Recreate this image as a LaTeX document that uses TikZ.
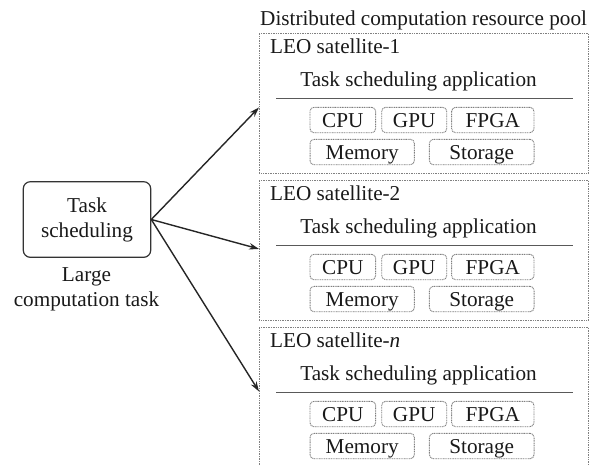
\documentclass[tikz,border=0pt]{standalone}
\usepackage{fontspec}
\setmainfont{Liberation Serif}
\usetikzlibrary{arrows.meta}

\begin{document}
\begin{tikzpicture}[x=1pt,y=-1pt,
  every node/.style={font=\fontsize{21.2}{25}\selectfont, text=black!90},
  satbox/.style={draw=black!50, line width=0.9pt, dash pattern=on 1pt off 0.7pt,
    minimum width=329pt, minimum height=140pt, anchor=north west, inner sep=0pt},
  resbox/.style={draw=black!50, line width=0.9pt, dash pattern=on 1pt off 0.7pt,
    rounded corners=4pt, minimum height=25.4pt, inner sep=0pt,
    text height=14pt, text depth=0pt},
  taskbox/.style={draw=black!80, line width=1.2pt, rounded corners=7pt,
    minimum width=127.4pt, minimum height=75.6pt, align=center, inner sep=0pt},
  sendarrow/.style={draw=black!85, line width=1.4pt,
    -{Stealth[length=10pt,width=6.5pt]}},
  sepline/.style={draw=black!65, line width=1pt}
]
\useasboundingbox (0,0) rectangle (595,464);
\clip (0,0) rectangle (595,464);

% pool title
\node[anchor=base west, inner sep=0pt] (pool) at (260,25) {Distributed computation resource pool};

% satellites of the pool
\foreach \i/\top/\name in {1/33/{LEO satellite-1}, 2/180/{LEO satellite-2}, 3/327/{LEO satellite-\textit{n}}} {
  \node[satbox] (sat\i) at (259,\top) {};
  \node[anchor=base west, inner sep=0pt] (leo\i) at (270,\top+20) {\name};
  \node[anchor=base, inner sep=0pt] (app\i) at (418.5,\top+53) {Task scheduling application};
  \coordinate (sepL\i) at (276,\top+65);
  \coordinate (sepR\i) at (573,\top+65);
  \draw[sepline] (sepL\i) -- (sepR\i);
  \node[resbox, minimum width=65.7pt] (cpu\i)  at (342.8,\top+87) {CPU};
  \node[resbox, minimum width=65pt]   (gpu\i)  at (414.2,\top+87) {GPU};
  \node[resbox, minimum width=82.3pt] (fpga\i) at (492.8,\top+87) {FPGA};
  \node[resbox, minimum width=104.3pt] (mem\i) at (362.2,\top+119) {Memory};
  \node[resbox, minimum width=104.7pt] (sto\i) at (481.7,\top+119) {Storage};
}

% task scheduler on the left
\node[taskbox] (task) at (87,219.5) {Task\\scheduling};
\node[align=center, inner sep=0pt] (big) at (86.5,289.5) {Large\\computation task};

% dispatch to the satellites
\draw[sendarrow] (task.east) -- ([yshift=-4pt]sat1.west);
\draw[sendarrow] (task.east) -- ([yshift=1.5pt]sat2.west);
\draw[sendarrow] (task.east) -- ([yshift=6pt]sat3.west);
\end{tikzpicture}
\end{document}
